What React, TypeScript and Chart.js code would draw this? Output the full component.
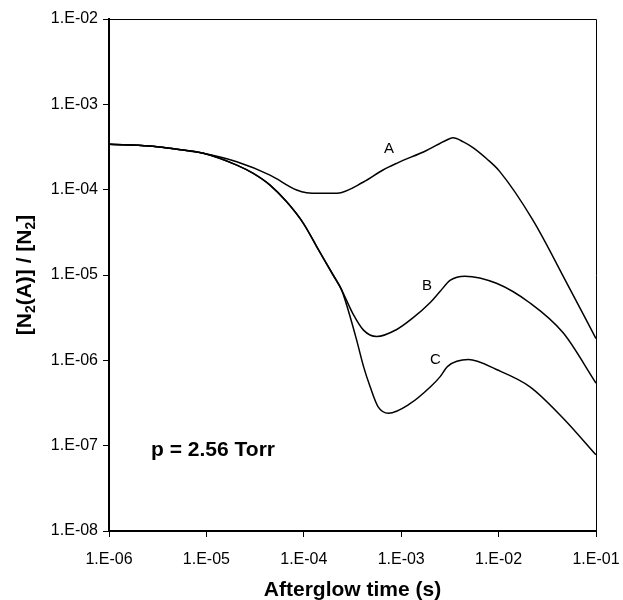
import React, { useEffect, useRef } from 'react';
import { Chart, registerables } from 'chart.js';

Chart.register(...registerables);

const FONT = 'Arial, "Liberation Sans", Helvetica, sans-serif';

const xTickValues = [1e-6, 1e-5, 1e-4, 1e-3, 1e-2, 1e-1];
const xTickLabels = ['1.E-06', '1.E-05', '1.E-04', '1.E-03', '1.E-02', '1.E-01'];
const yTickValues = [1e-8, 1e-7, 1e-6, 1e-5, 1e-4, 1e-3, 1e-2];
const yTickLabels = ['1.E-08', '1.E-07', '1.E-06', '1.E-05', '1.E-04', '1.E-03', '1.E-02'];

const xA = [1e-6, 2.6e-6, 4.2e-6, 9.3e-6, 2.05e-5, 4.5e-5, 8.45e-5, 1.07e-4, 1.47e-4, 2.2e-4, 4.1e-4, 6.5e-4, 9.1e-4, 1.84e-3, 2.9e-3, 3.4e-3, 4.35e-3, 5.5e-3, 7.55e-3, 1.02e-2, 2.25e-2, 5.0e-2, 1e-1];
const yA = [3.4e-4, 3.25e-4, 3.05e-4, 2.67e-4, 2.12e-4, 1.48e-4, 9.9e-5, 9.2e-5, 9.06e-5, 9.1e-5, 1.23e-4, 1.7e-4, 2.05e-4, 2.9e-4, 3.8e-4, 4.05e-4, 3.63e-4, 3.09e-4, 2.3e-4, 1.65e-4, 4.4e-5, 8.1e-6, 1.8e-6];

const xB = [1e-6, 2.6e-6, 4.2e-6, 9.3e-6, 2.05e-5, 3.03e-5, 4.5e-5, 6.67e-5, 9.9e-5, 1.36e-4, 2.0e-4, 2.45e-4, 3.2e-4, 4.1e-4, 5.6e-4, 9.0e-4, 1.3e-3, 2.0e-3, 2.5e-3, 3.2e-3, 4.5e-3, 9.5e-3, 2.1e-2, 4.6e-2, 1e-1];
const yB = [3.4e-4, 3.25e-4, 3.05e-4, 2.67e-4, 1.94e-4, 1.55e-4, 1.13e-4, 7.2e-5, 4.03e-5, 2.14e-5, 1.0e-5, 6.65e-6, 3.5e-6, 2.26e-6, 1.9e-6, 2.3e-6, 3.1e-6, 4.8e-6, 6.4e-6, 8.7e-6, 9.7e-6, 8.0e-6, 4.7e-6, 2.1e-6, 5.4e-7];

const xC = [1e-6, 2.6e-6, 4.2e-6, 9.3e-6, 2.05e-5, 3.03e-5, 4.5e-5, 6.67e-5, 9.9e-5, 1.36e-4, 2.0e-4, 2.45e-4, 3.0e-4, 3.5e-4, 4.1e-4, 4.8e-4, 5.8e-4, 7.4e-4, 1.23e-3, 2.0e-3, 2.5e-3, 3.0e-3, 4.9e-3, 9.5e-3, 2.1e-2, 4.6e-2, 1e-1];
const yC = [3.4e-4, 3.25e-4, 3.05e-4, 2.67e-4, 1.94e-4, 1.55e-4, 1.13e-4, 7.2e-5, 4.03e-5, 2.14e-5, 1.0e-5, 6.65e-6, 3.2e-6, 1.7e-6, 8.5e-7, 4.9e-7, 2.85e-7, 2.4e-7, 3.1e-7, 4.9e-7, 6.4e-7, 8.5e-7, 1.02e-6, 7.8e-7, 4.9e-7, 2.1e-7, 7.8e-8];

const seriesNames = ['A', 'B', 'C'];
const seriesX = [xA, xB, xC];
const seriesY = [yA, yB, yC];
const labelX = [7.5e-4, 1.84e-3, 2.24e-3];
const labelY = [3.0e-4, 7.4e-6, 1.02e-6];

const noteText = 'p = 2.56 Torr';
const noteX = 1.17e-5;
const noteY = 8.9e-8;

const xTitle = 'Afterglow time (s)';
const yTitleParts: [string, boolean][] = [
  ['[N', false],
  ['2', true],
  ['(A)] / [N', false],
  ['2', true],
  [']', false],
];

const overlay = {
  id: 'overlay',
  afterDraw(chart: any) {
    const { ctx, chartArea: a, scales } = chart;
    const xs = scales.x;
    const ys = scales.y;
    ctx.save();
    ctx.strokeStyle = '#000';
    ctx.lineWidth = 1;
    ctx.beginPath();
    ctx.moveTo(a.left, a.top + 0.5);
    ctx.lineTo(a.right + 0.5, a.top + 0.5);
    ctx.lineTo(a.right + 0.5, a.bottom);
    ctx.stroke();

    ctx.fillStyle = '#000';
    ctx.textAlign = 'center';
    ctx.textBaseline = 'middle';
    ctx.font = `15px ${FONT}`;
    seriesNames.forEach((n, i) => {
      ctx.fillText(n, xs.getPixelForValue(labelX[i]), ys.getPixelForValue(labelY[i]));
    });
    ctx.font = `bold 21px ${FONT}`;
    ctx.fillText(noteText, xs.getPixelForValue(noteX), ys.getPixelForValue(noteY));
    ctx.fillText(xTitle, (a.left + a.right) / 2, a.bottom + 59);

    ctx.translate(25, (a.top + a.bottom) / 2);
    ctx.rotate(-Math.PI / 2);
    const big = `bold 21px ${FONT}`;
    const small = `bold 14px ${FONT}`;
    let total = 0;
    yTitleParts.forEach(([t, sub]) => {
      ctx.font = sub ? small : big;
      total += ctx.measureText(t).width;
    });
    let x = -total / 2;
    ctx.textAlign = 'left';
    ctx.textBaseline = 'alphabetic';
    yTitleParts.forEach(([t, sub]) => {
      ctx.font = sub ? small : big;
      ctx.fillText(t, x, sub ? 10 : 6);
      x += ctx.measureText(t).width;
    });
    ctx.restore();
  },
};

export default function App() {
  const ref = useRef<HTMLCanvasElement | null>(null);
  useEffect(() => {
    if (!ref.current) return;
    const datasets = seriesNames.map((name, i) => ({
      label: name,
      data: seriesX[i].map((xv, j) => ({ x: xv, y: seriesY[i][j] })),
      borderColor: '#000',
      borderWidth: 1.5,
      pointRadius: 0,
      fill: false,
      cubicInterpolationMode: 'monotone' as const,
    }));
    const chart = new Chart(ref.current, {
      type: 'line',
      data: { datasets },
      plugins: [overlay],
      options: {
        animation: false,
        responsive: true,
        maintainAspectRatio: false,
        layout: { padding: { top: 19, right: 27, left: 0, bottom: 0 } },
        plugins: { legend: { display: false }, tooltip: { enabled: false } },
        scales: {
          x: {
            type: 'logarithmic',
            min: 1e-6,
            max: 1e-1,
            afterBuildTicks: (s: any) => {
              s.ticks = xTickValues.map((v) => ({ value: v }));
            },
            afterFit: (s: any) => {
              s.height = 69;
              s.paddingLeft = 0;
              s.paddingRight = 0;
            },
            ticks: {
              callback: (_v: any, i: number) => xTickLabels[i],
              font: { family: FONT, size: 16 },
              color: '#000',
              padding: 13,
              maxRotation: 0,
              autoSkip: false,
            },
            grid: { display: true, drawOnChartArea: false, drawTicks: true, tickLength: 6, color: '#000', lineWidth: 1 },
            border: { display: true, color: '#000', width: 2 },
          },
          y: {
            type: 'logarithmic',
            min: 1e-8,
            max: 1e-2,
            afterBuildTicks: (s: any) => {
              s.ticks = yTickValues.map((v) => ({ value: v }));
            },
            afterFit: (s: any) => {
              s.width = 109;
              s.paddingTop = 0;
              s.paddingBottom = 0;
            },
            ticks: {
              callback: (_v: any, i: number) => yTickLabels[i],
              font: { family: FONT, size: 16 },
              color: '#000',
              padding: 5,
              autoSkip: false,
            },
            grid: { display: true, drawOnChartArea: false, drawTicks: true, tickLength: 6, color: '#000', lineWidth: 1 },
            border: { display: true, color: '#000', width: 2 },
          },
        },
      },
    } as any);
    return () => chart.destroy();
  }, []);
  return (
    <div style={{ position: 'fixed', left: 0, top: 0, width: 623, height: 600, background: '#fff' }}>
      <canvas ref={ref} />
    </div>
  );
}
